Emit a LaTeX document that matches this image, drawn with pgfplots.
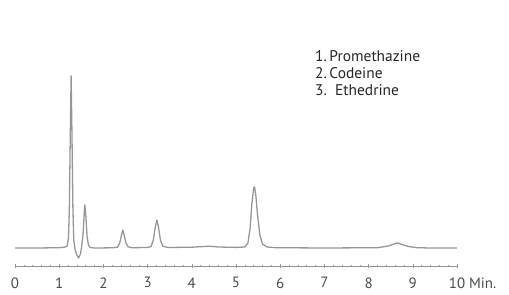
\documentclass[border=0pt]{standalone}
\usepackage{fontspec}
\setmainfont{PT Sans}
\usepackage{pgfplots}
\pgfplotsset{compat=1.18}
\definecolor{trace}{RGB}{150,150,150}
\definecolor{lab}{RGB}{75,75,75}
\begin{document}
\begin{tikzpicture}
\path[use as bounding box] (0,0) rectangle (509bp,295bp);
\begin{axis}[
  at={(15bp,29bp)}, anchor=south west,
  scale only axis,
  x=44.2bp, y=1bp,
  xmin=0, xmax=10, ymin=-18, ymax=175,
  axis x line=bottom, axis y line=none,
  x axis line style={-, draw=trace, line width=0.6pt},
  xtick={0,...,10},
  xticklabels={0,1,2,3,4,5,6,7,8,9,{10\rlap{ Min.}}},
  minor x tick num=4,
  tick align=center,
  major tick length=4bp, minor tick length=2.5bp,
  every tick/.style={draw=trace, line width=0.5pt},
  xticklabel style={font=\fontsize{15}{15}\selectfont, text=lab, yshift=-6bp},
  /pgf/number format/assume math mode=true,
  clip=false,
]
\addplot[trace, line width=1.3pt, line join=round] coordinates {
(0,0) (0.5,0) (1.0,0.3) (1.12,0.8) (1.18,2) (1.21,10) (1.23,40) (1.25,110) (1.27,172)
(1.29,110) (1.31,40) (1.33,8) (1.36,-2) (1.40,-7) (1.44,-10) (1.48,-6) (1.51,2)
(1.54,14) (1.57,38) (1.58,43) (1.60,34) (1.63,12) (1.66,3) (1.70,0.5) (1.8,0)
(2.2,0.2) (2.32,0.8) (2.37,5) (2.41,13) (2.44,18) (2.47,13) (2.51,5) (2.56,1.2) (2.65,0.3)
(3.0,0.5) (3.08,1.5) (3.13,8) (3.17,20) (3.21,28) (3.25,20) (3.29,8) (3.34,2) (3.45,0.5)
(4.0,0.8) (4.4,1.8) (4.6,1) (5.0,0.6) (5.2,1) (5.27,5) (5.32,20) (5.36,45) (5.40,60) (5.42,61)
(5.45,52) (5.49,32) (5.54,13) (5.60,4) (5.70,1) (5.9,0.3)
(7,0) (8.2,0.3) (8.45,2) (8.6,4.5) (8.66,5) (8.75,3.5) (8.9,1.5) (9.1,0.3) (9.4,0) (10,0)
};
\end{axis}
\node[anchor=north west, inner sep=0pt, align=left, font=\fontsize{15.5}{17}\selectfont, text=black!85]
  at (315bp,245bp) {1.\,Promethazine\\2.\,Codeine\\3.\ \ Ethedrine};
\end{tikzpicture}
\end{document}
